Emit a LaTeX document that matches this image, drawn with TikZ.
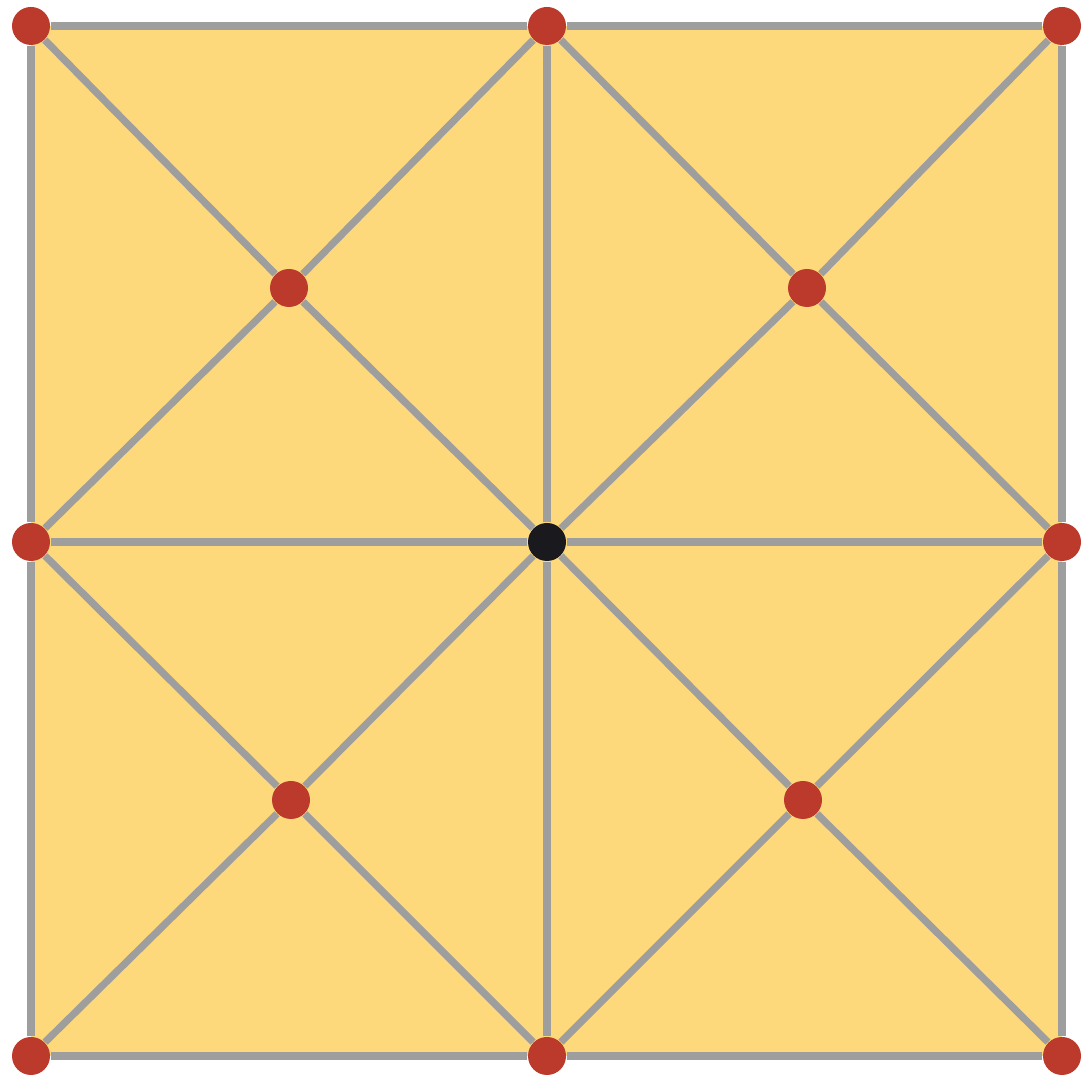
\documentclass[tikz,border=0pt]{standalone}
\usepackage{xcolor}

\definecolor{meshFill}{HTML}{FED97B}
\definecolor{meshEdge}{HTML}{9E9E9E}
\definecolor{vertRed}{HTML}{BC3A2C}
\definecolor{vertDark}{HTML}{1A191E}

\begin{document}
\begin{tikzpicture}[
	x=1cm, y=1cm,
	% Vertex styles
	vtx/.style={circle, fill=vertRed, minimum size=0.38cm, inner sep=0pt},
	vtx-c/.style={circle, fill=vertDark, minimum size=0.38cm, inner sep=0pt},
	% Edge style
	edge/.style={draw=meshEdge, line width=0.072cm}
	]
	
	\useasboundingbox (0,0) rectangle (10.86,10.75);
	
	% ==============================================================================
	% VERTICES
	% ==============================================================================
	\fill[meshFill] (0.31,10.49) rectangle (10.62,0.19);
	
	\node[vtx] (TL) at (0.31,10.49) {};
	\node[vtx] (TM) at (5.47,10.49) {};
	\node[vtx] (TR) at (10.62,10.49) {};
	\node[vtx] (ML) at (0.31,5.33) {};
	\node[vtx-c] (C) at (5.47,5.33) {};
	\node[vtx] (MR) at (10.62,5.33) {};
	\node[vtx] (BL) at (0.31,0.19) {};
	\node[vtx] (BM) at (5.47,0.19) {};
	\node[vtx] (BR) at (10.62,0.19) {};
	\node[vtx] (Q1) at (2.89,7.87) {};
	\node[vtx] (Q2) at (8.07,7.87) {};
	\node[vtx] (Q3) at (2.91,2.75) {};
	\node[vtx] (Q4) at (8.03,2.75) {};
	
	% ==============================================================================
	% EDGES
	% ==============================================================================
	% outer square
	\draw[edge] (TL) -- (TM);
	\draw[edge] (TM) -- (TR);
	\draw[edge] (TR) -- (MR);
	\draw[edge] (MR) -- (BR);
	\draw[edge] (BR) -- (BM);
	\draw[edge] (BM) -- (BL);
	\draw[edge] (BL) -- (ML);
	\draw[edge] (ML) -- (TL);
	% cross through centre
	\foreach \v in {TM,BM,ML,MR}
		\draw[edge] (C) -- (\v);
	% diagonals per quadrant
	\foreach \q/\a/\b/\c/\d in {Q1/TL/C/TM/ML, Q2/TR/C/TM/MR, Q3/BL/C/BM/ML, Q4/BR/C/BM/MR}{
		\draw[edge] (\q) -- (\a);
		\draw[edge] (\q) -- (\b);
		\draw[edge] (\q) -- (\c);
		\draw[edge] (\q) -- (\d);
	}
	
\end{tikzpicture}
\end{document}
